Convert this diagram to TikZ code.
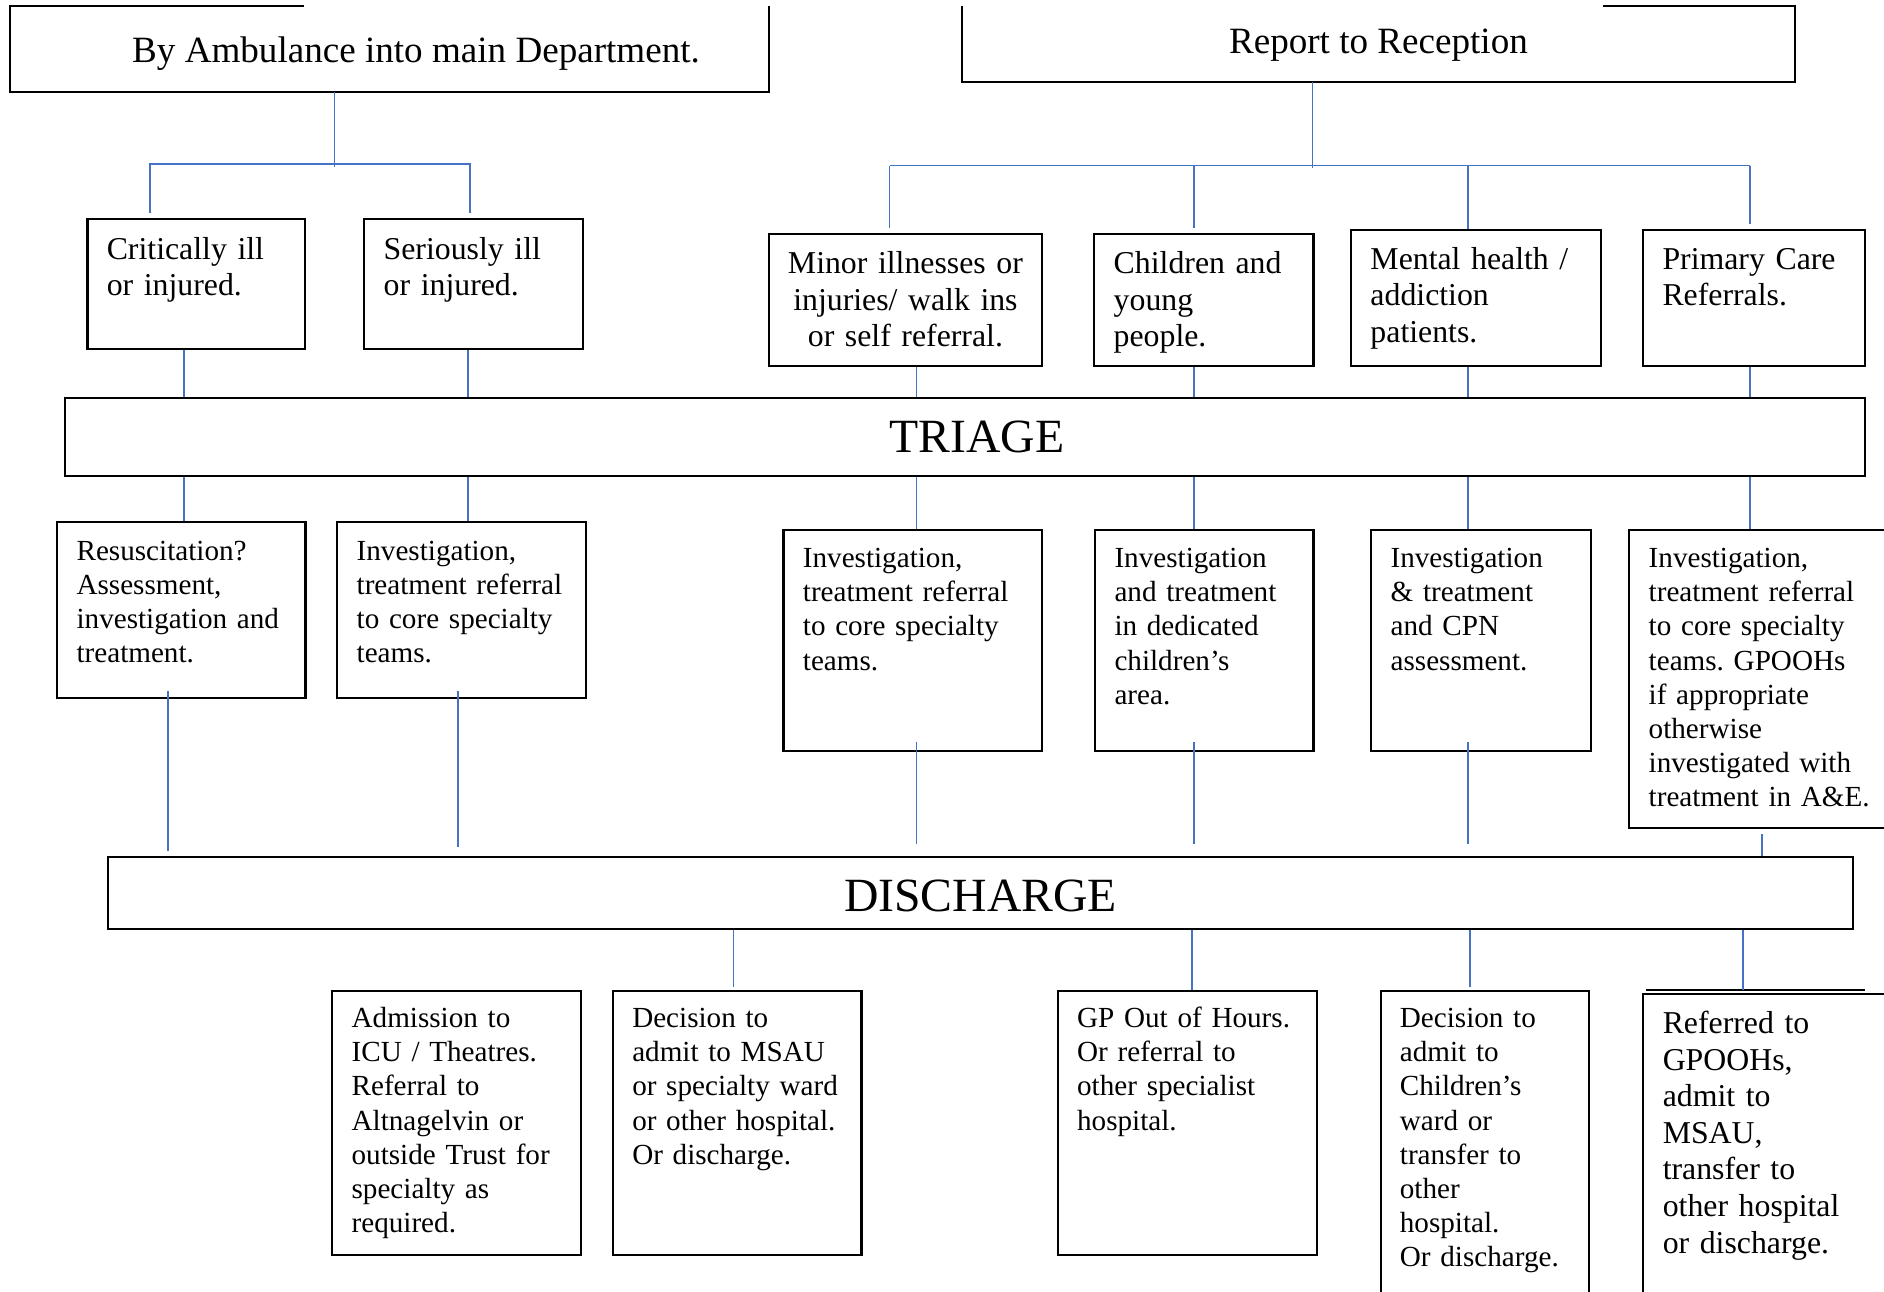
\documentclass[tikz,border=0pt]{standalone}
\usepackage{fontspec}
\setmainfont{Liberation Serif}
\usepackage{xcolor}
\definecolor{linkblue}{HTML}{4472C4}
\frenchspacing

\begin{document}
\begin{tikzpicture}[x=1pt, y=1pt,
        card/.style={draw, line width=0.8pt, anchor=north west, inner xsep=7.3pt, inner ysep=0pt, align=left, font=\fontsize{11}{12.9}\selectfont},
        big/.style={font=\fontsize{12}{13.8}\selectfont},
        head/.style={anchor=north west, inner sep=0pt, align=center, font=\fontsize{14}{16}\selectfont},
        banner/.style={draw, line width=0.8pt, anchor=north west, inner sep=0pt, align=center, font=\fontsize{18}{20}\selectfont},
        link/.style={draw=linkblue, line width=0.6pt}]

        \useasboundingbox (0,0) rectangle (711,-487.5);
        \clip (0,0) rectangle (711,-487.5);

        \node[head, minimum width=285.9pt, text height=21pt, text depth=10.9pt] (amb) at (3.85,-2.26) {\hspace*{20pt}By Ambulance into main Department.};
        \draw[line width=0.8pt] ([xshift=110.9pt]amb.north west) -- (amb.north west) -- (amb.south west) -- (amb.south east) -- (amb.north east);

        \node[head, minimum width=314pt, text height=17.6pt, text depth=10.6pt] (rec) at (363,-2.26) {Report to Reception};
        \draw[line width=0.8pt] ([xshift=-72.6pt]rec.north east) -- (rec.north east) -- (rec.south east) -- (rec.south west) -- (rec.north west);

        \node[card, big, text width=67.5pt, text height=15.1pt, text depth=33.7pt] (crit) at (32.6,-82.4) {Critically ill\\or injured.};
        \node[card, big, text width=67.8pt, text height=15.1pt, text depth=33.7pt] (ser) at (137.1,-82.4) {Seriously ill\\or injured.};
        \node[card, big, align=center, inner xsep=4pt, text width=94.8pt, text height=15.1pt, text depth=34.8pt] (minor) at (289.9,-87.8) {Minor illnesses or\\injuries/ walk ins\\or self referral.};
        \node[card, big, text width=68.1pt, text height=15.1pt, text depth=34.8pt] (child) at (412.6,-87.8) {Children and\\young\\people.};
        \node[card, big, text width=79.8pt, text height=14.9pt, text depth=36.5pt] (mental) at (509.5,-86.3) {Mental health /\\addiction\\patients.};
        \node[card, big, text width=69.2pt, text height=14.9pt, text depth=36.5pt] (prim) at (619.7,-86.3) {Primary Care\\Referrals.};

        \node[banner, minimum width=679.4pt, text height=20.6pt, text depth=8.6pt] (triage) at (24.1,-149.9) {\hspace*{8.8pt}TRIAGE};

        \node[card, text width=79.1pt, text height=14.5pt, text depth=52pt] (resus) at (21.2,-196.6) {Resuscitation?\\Assessment,\\investigation and\\treatment.};
        \node[card, text width=79.1pt, text height=14.5pt, text depth=52pt] (inv1) at (126.9,-196.6) {Investigation,\\treatment referral\\to core specialty\\teams.};
        \node[card, text width=82.8pt, text height=14.1pt, text depth=69.1pt] (inv2) at (295.3,-199.7) {Investigation,\\treatment referral\\to core specialty\\teams.};
        \node[card, text width=67.8pt, text height=14.1pt, text depth=69.1pt] (childinv) at (412.9,-199.7) {Investigation\\and treatment\\in dedicated\\children’s\\area.};
        \node[card, text width=68.4pt, text height=14.1pt, text depth=69.1pt] (mentinv) at (517.1,-199.7) {Investigation\\\& treatment\\and CPN\\assessment.};
        \node[card, text width=95.4pt, text height=14.1pt, text depth=98.4pt] (priminv) at (614.5,-199.7) {Investigation,\\treatment referral\\to core specialty\\teams. GPOOHs\\if appropriate\\otherwise\\investigated with\\treatment in A\&E.};

        \node[banner, minimum width=658.7pt, text height=20.5pt, text depth=6.7pt] (discharge) at (40.3,-322.9) {DISCHARGE};

        \node[card, text width=79.2pt, text height=13.8pt, text depth=85.9pt] (adm) at (125,-373.6) {Admission to\\ICU / Theatres.\\Referral to\\Altnagelvin or\\outside Trust for\\specialty as\\required.};
        \node[card, text width=79.2pt, text height=13.8pt, text depth=85.9pt] (msau) at (230.9,-373.6) {Decision to\\admit to MSAU\\or specialty ward\\or other hospital.\\Or discharge.};
        \node[card, text width=83.1pt, text height=13.8pt, text depth=85.9pt] (gp) at (398.8,-373.6) {GP Out of Hours.\\Or referral to\\other specialist\\hospital.};
        \node[card, text width=64pt, text height=13.8pt, text depth=111.2pt] (childdec) at (520.6,-373.6) {Decision to\\admit to\\Children’s\\ward or\\transfer to\\other\\hospital.\\Or discharge.};
        \node[card, big, text width=95.4pt, text height=14.9pt, text depth=110pt] (ref) at (619.8,-374.8) {Referred to\\GPOOHs,\\admit to\\MSAU,\\transfer to\\other hospital\\or discharge.};
        \draw[line width=0.8pt] ([shift={(1.3pt,1.2pt)}]ref.north west) -- ++(82.9,0);

        \coordinate (ambfork) at (126.3,-61.9);
        \coordinate (critfork) at (56.6,-61.9);
        \coordinate (serfork) at (177.3,-61.9);
        \draw[link] (amb.south -| ambfork) -- ([yshift=-1pt]ambfork);
        \draw[link, shorten <=1.9pt, shorten >=1.9pt] (crit.north -| critfork) |- (ambfork) -| (ser.north -| serfork);

        \coordinate (recfork) at (495.3,-62.5);
        \coordinate (recleft) at (335.7,-62.5);
        \coordinate (recright) at (660.4,-62.5);
        \draw[link] (rec.south -| recfork) -- ([yshift=-1pt]recfork);
        \draw[link] (recleft) -- (recright);
        \foreach \n/\x/\g in {minor/335.7/1.9, child/450.6/1.9, mental/554.0/0, prim/660.4/1.8}
            \draw[link, shorten >=\g pt] (\x,-62.5) -- (\n.north -| \x,0);

        \foreach \n/\x in {crit/69.5, ser/176.6, minor/345.8, child/450.6, mental/554.0, prim/660.4}
            \draw[link] (\n.south -| \x,0) -- (triage.north -| \x,0);

        \foreach \n/\x in {resus/69.5, inv1/176.6, inv2/345.8, childinv/450.6, mentinv/554.0, priminv/660.4}
            \draw[link] (triage.south -| \x,0) -- (\n.north -| \x,0);

        \foreach \n/\x/\a/\b in {resus/63.5/-3/1.9, inv1/172.9/-3/3.4, inv2/345.8/-3.7/4.4, childinv/450.6/-3.7/4.4, mentinv/554.0/-3.7/4.4, priminv/665.0/1.6/0}
            \draw[link, shorten <=\a pt, shorten >=\b pt] (\n.south -| \x,0) -- (discharge.north -| \x,0);

        \foreach \n/\x/\g in {msau/276.8/1.3, gp/449.8/0, childdec/554.7/1.3, ref/657.7/1.2}
            \draw[link, shorten >=\g pt] (discharge.south -| \x,0) -- (\n.north -| \x,0);
\end{tikzpicture}
\end{document}
